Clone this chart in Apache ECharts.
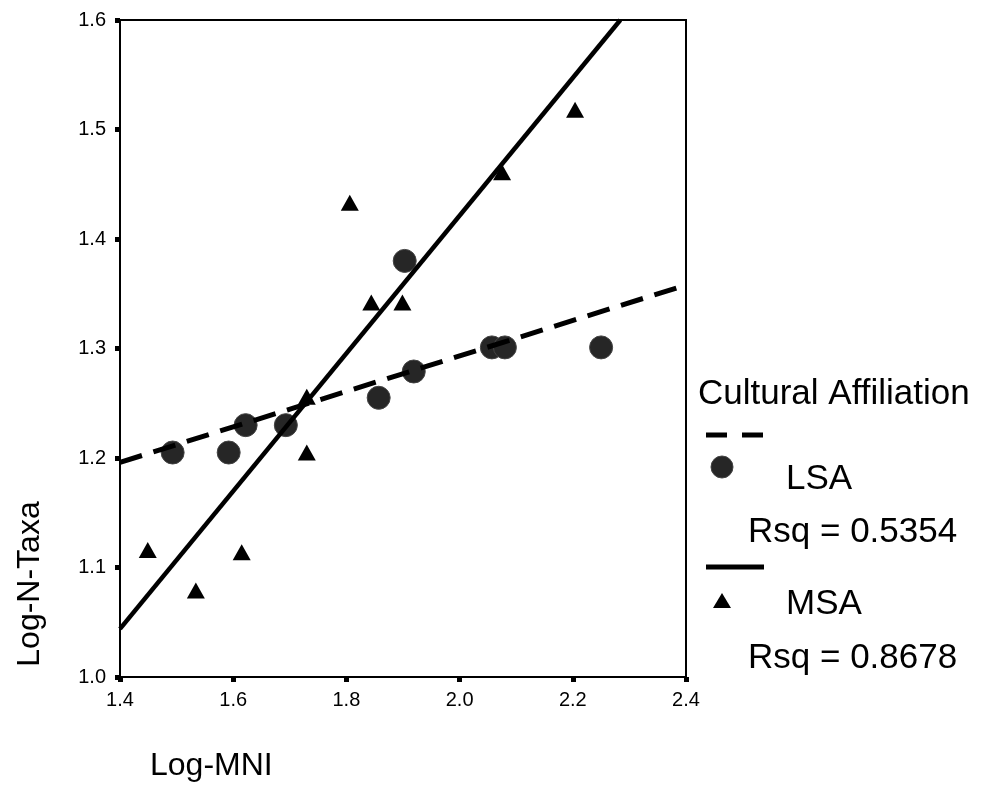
<!DOCTYPE html>
<html>
<head>
<meta charset="utf-8">
<script src="https://cdn.jsdelivr.net/npm/echarts@6/dist/echarts.min.js"></script>
<style>
html,body{margin:0;padding:0;background:#fff;}
#chart{width:997px;height:802px;}
</style>
</head>
<body>
<div id="chart"></div>
<script>
// ---- data ----
const xTicks = [1.4, 1.6, 1.8, 2.0, 2.2, 2.4];
const yTicks = [1.0, 1.1, 1.2, 1.3, 1.4, 1.5, 1.6];

const lsaX = [1.493, 1.592, 1.622, 1.693, 1.857, 1.903, 1.919, 2.057, 2.080, 2.250];
const lsaY = [1.205, 1.205, 1.230, 1.230, 1.255, 1.380, 1.279, 1.301, 1.301, 1.301];

const msaX = [1.449, 1.534, 1.615, 1.730, 1.730, 1.806, 1.844, 1.899, 2.075, 2.204];
const msaY = [1.116, 1.079, 1.114, 1.256, 1.205, 1.433, 1.342, 1.342, 1.461, 1.518];

// fitted lines (endpoints)
const lsaFitX = [1.4, 2.4];
const lsaFitY = [1.196, 1.358];
const msaFitX = [1.4, 2.284];
const msaFitY = [1.044, 1.6];

const legendTitle = 'Cultural Affiliation';
const seriesNames = ['LSA', 'MSA'];
const rsqLabels = ['Rsq = 0.5354', 'Rsq = 0.8678'];
const xTitle = 'Log-MNI';
const yTitle = 'Log-N-Taxa';

const zip = (a, b) => a.map((v, i) => [v, b[i]]);
const FONT = '"Liberation Sans", Arial, Helvetica, sans-serif';

const chart = echarts.init(document.getElementById('chart'), null, {renderer: 'canvas'});

const titleFont = 32;
const legendFont = 35;
const option = {
  backgroundColor: '#ffffff',
  animation: false,
  grid: {left: 120, right: 311, top: 20, bottom: 125, show: true, borderColor: '#000', borderWidth: 2, backgroundColor: 'transparent'},
  xAxis: {
    type: 'value', min: xTicks[0], max: xTicks[xTicks.length - 1], interval: 0.2,
    splitLine: {show: false},
    axisLine: {show: true, onZero: false, lineStyle: {color: '#000', width: 2}},
    axisTick: {show: true, length: 5, lineStyle: {color: '#000', width: 5}},
    axisLabel: {color: '#000', fontSize: 20, fontFamily: FONT, margin: 13, formatter: v => v.toFixed(1)}
  },
  yAxis: {
    type: 'value', min: yTicks[0], max: yTicks[yTicks.length - 1], interval: 0.1,
    splitLine: {show: false},
    axisLine: {show: true, onZero: false, lineStyle: {color: '#000', width: 2}},
    axisTick: {show: true, length: 5, lineStyle: {color: '#000', width: 5}},
    axisLabel: {color: '#000', fontSize: 20, fontFamily: FONT, margin: 14, formatter: v => v.toFixed(1)}
  },
  series: [
    {
      name: 'LSA fit', type: 'line', data: zip(lsaFitX, lsaFitY), symbol: 'none', clip: true, z: 3,
      lineStyle: {color: '#000', width: 5, type: [23, 12]}
    },
    {
      name: 'MSA fit', type: 'line', data: zip(msaFitX, msaFitY), symbol: 'none', clip: true, z: 3,
      lineStyle: {color: '#000', width: 4.5, type: 'solid'}
    },
    {
      name: seriesNames[0], type: 'scatter', data: zip(lsaX, lsaY), symbol: 'circle', symbolSize: 23, z: 2,
      itemStyle: {color: '#262626', borderColor: '#444', borderWidth: 1, opacity: 1}
    },
    {
      name: seriesNames[1], type: 'scatter', data: zip(msaX, msaY), symbol: 'triangle', symbolSize: [18, 16], z: 4,
      itemStyle: {color: '#000', opacity: 1}
    }
  ],
  graphic: [
    {type: 'text', x: 30, y: 584, rotation: Math.PI / 2, style: {text: yTitle, font: `${titleFont}px ${FONT}`, fill: '#000', textAlign: 'center', textVerticalAlign: 'middle'}},
    {type: 'text', x: 150, y: 766, style: {text: xTitle, font: `${titleFont}px ${FONT}`, fill: '#000', textAlign: 'left', textVerticalAlign: 'middle'}},
    {type: 'text', x: 698, y: 394, style: {text: legendTitle, font: `${legendFont}px ${FONT}`, fill: '#000', textAlign: 'left', textVerticalAlign: 'middle'}},
    {type: 'line', shape: {x1: 706, y1: 435, x2: 764, y2: 435}, style: {stroke: '#000', lineWidth: 5, lineDash: [21, 15]}},
    {type: 'circle', shape: {cx: 722, cy: 467, r: 11}, style: {fill: '#262626', stroke: '#444', lineWidth: 1}},
    {type: 'text', x: 786, y: 479, style: {text: seriesNames[0], font: `${legendFont}px ${FONT}`, fill: '#000', textAlign: 'left', textVerticalAlign: 'middle'}},
    {type: 'text', x: 748, y: 532, style: {text: rsqLabels[0], font: `${legendFont}px ${FONT}`, fill: '#000', textAlign: 'left', textVerticalAlign: 'middle'}},
    {type: 'line', shape: {x1: 706, y1: 567, x2: 764, y2: 567}, style: {stroke: '#000', lineWidth: 5}},
    {type: 'polygon', shape: {points: [[722, 593], [731, 608], [713, 608]]}, style: {fill: '#000'}},
    {type: 'text', x: 786, y: 604, style: {text: seriesNames[1], font: `${legendFont}px ${FONT}`, fill: '#000', textAlign: 'left', textVerticalAlign: 'middle'}},
    {type: 'text', x: 748, y: 658, style: {text: rsqLabels[1], font: `${legendFont}px ${FONT}`, fill: '#000', textAlign: 'left', textVerticalAlign: 'middle'}}
  ]
};
chart.setOption(option);
</script>
</body>
</html>
